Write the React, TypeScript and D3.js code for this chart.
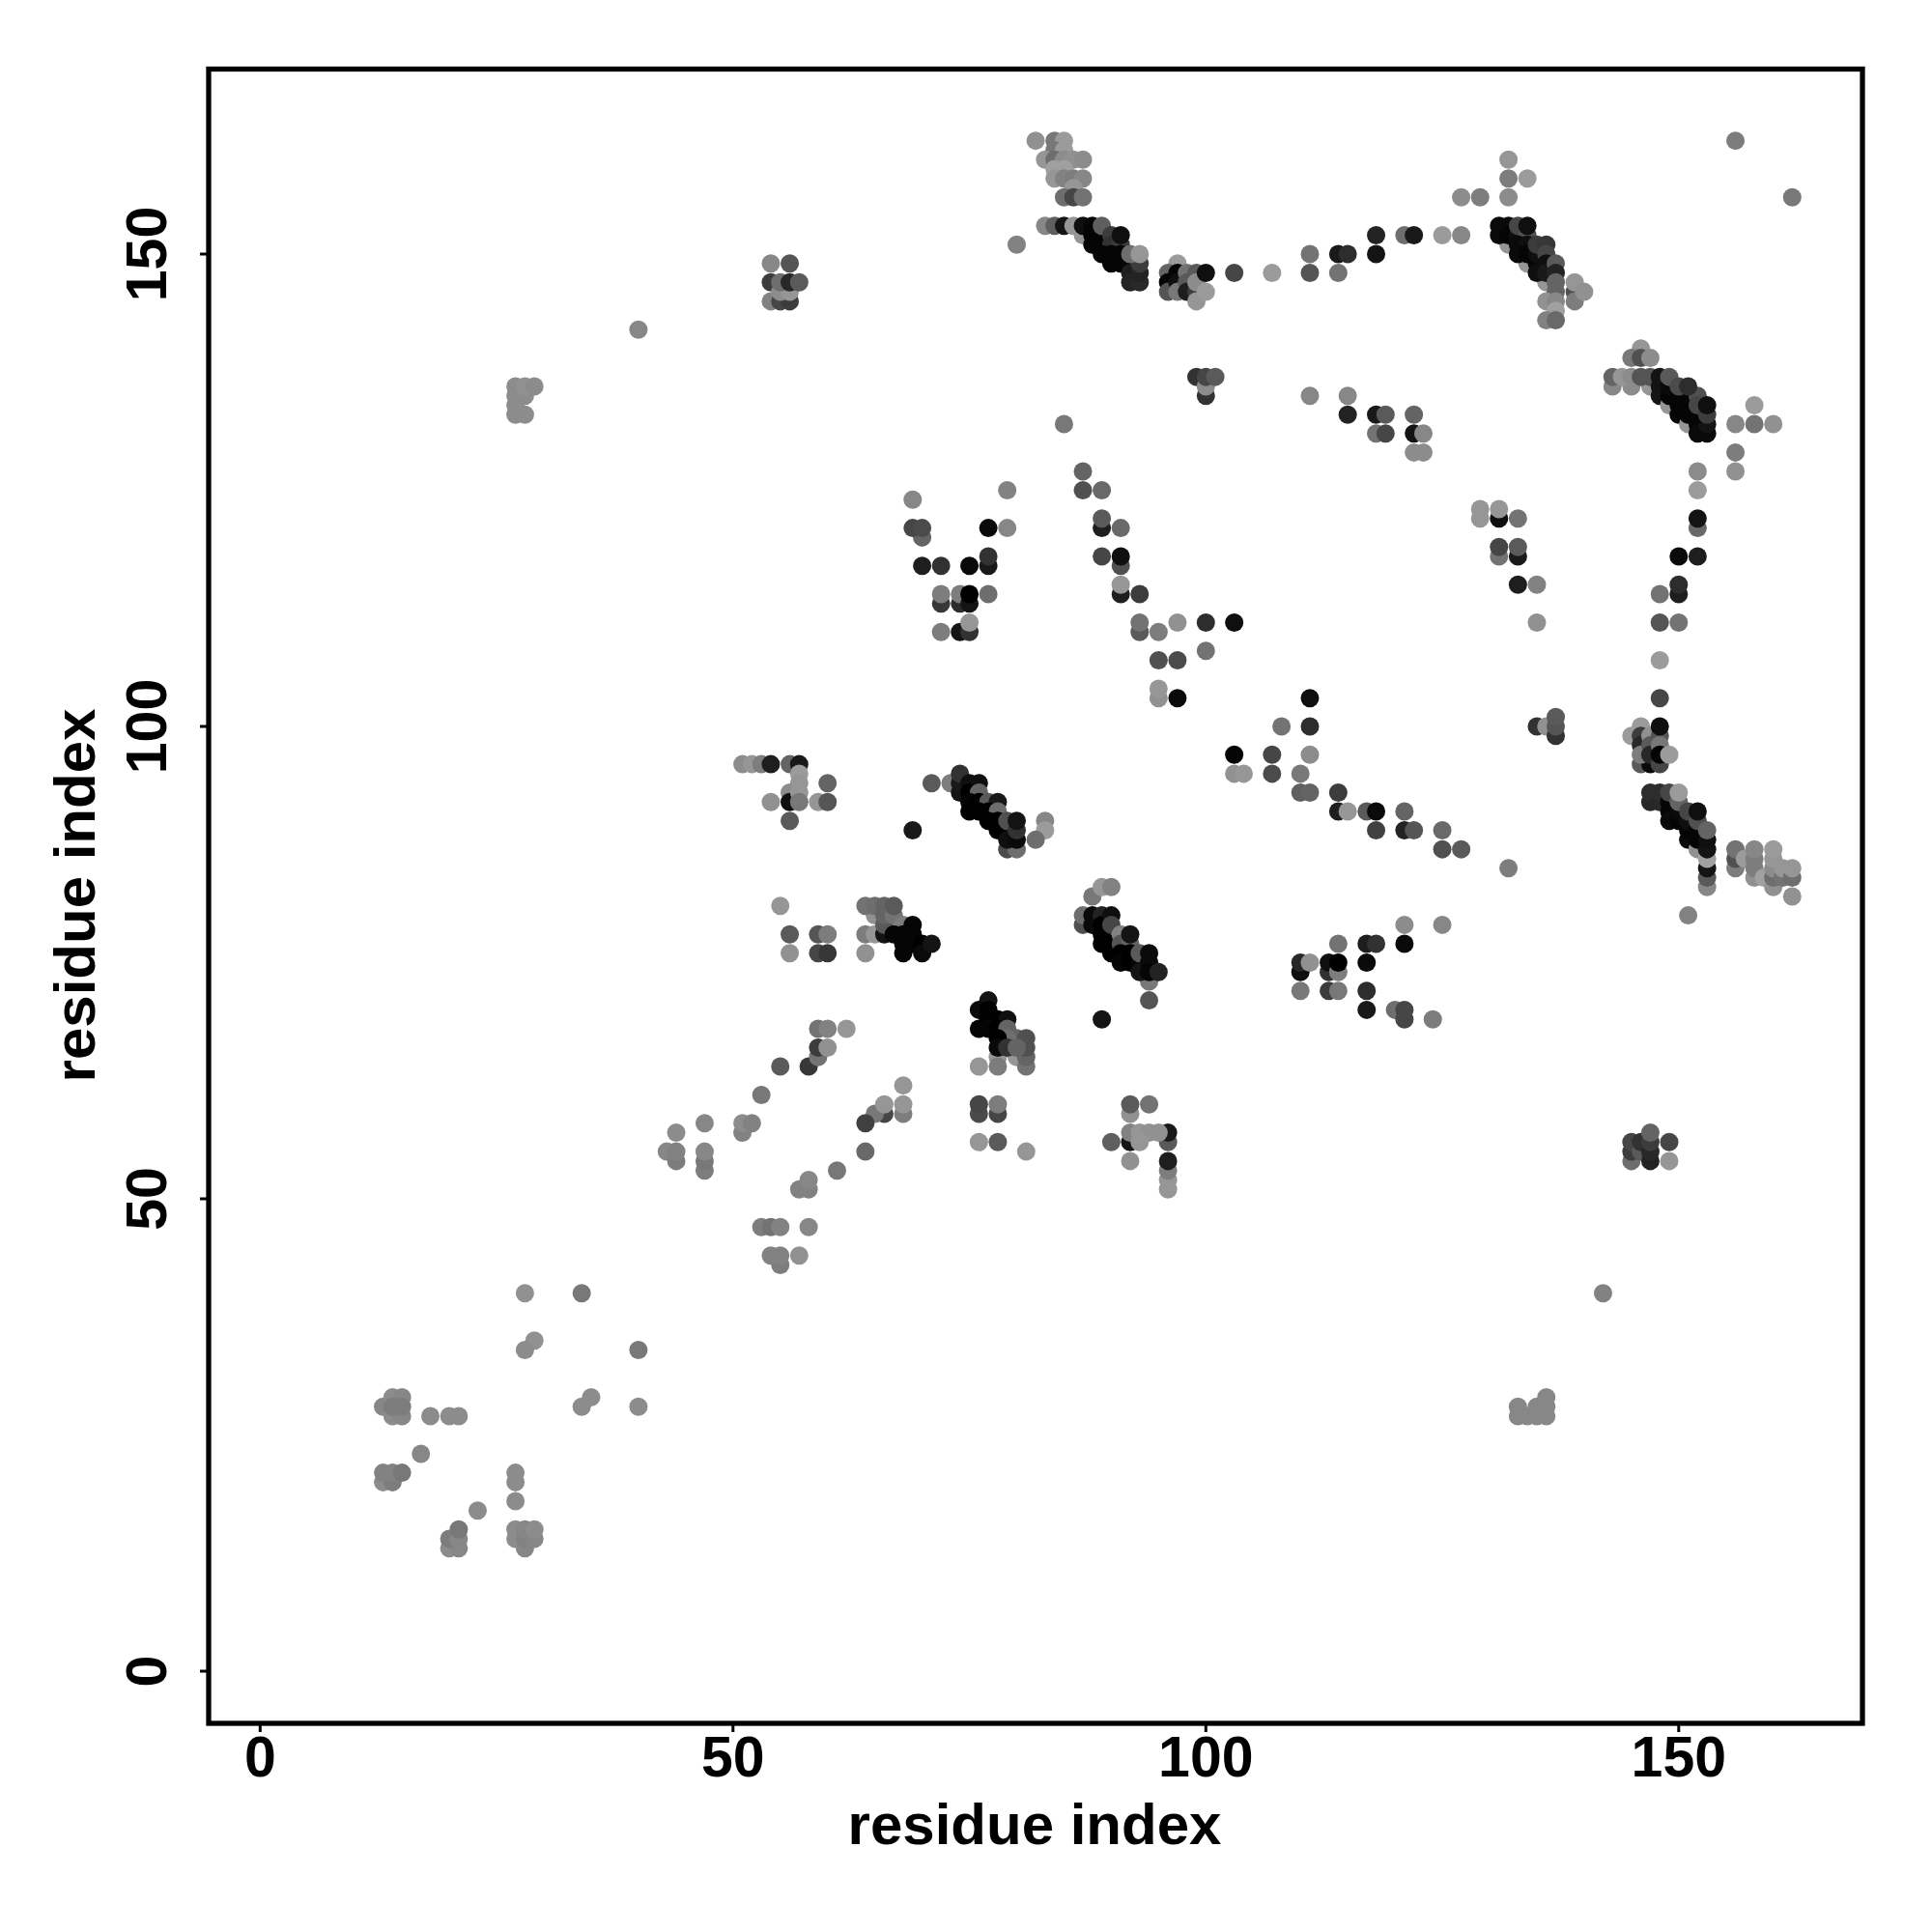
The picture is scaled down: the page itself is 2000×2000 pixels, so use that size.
import React from "react";
import * as d3 from "d3";

type P = [number, number, number];
// each contact: [residue i, residue j, grey level]
const topHelixA: P[] = [[82,162,145],[84,162,120],[85,162,155],[84,161,120],[85,161,155],[83,160,150],[84,160,110],[85,160,140],[86,160,145],[87,160,140],[84,159,160],[85,159,160],[84,158,150],[85,158,130],[86,158,125],[87,158,135],[86,157,150],[85,156,110],[86,156,70],[87,156,115],[83,153,135],[84,153,95],[85,153,20],[87,152,150],[86,153,150],[87,153,15],[88,153,5],[88,152,5],[89,152,5],[89,151,5],[88,151,5],[89,153,95],[90,152,60],[90,151,50],[91,151,60],[91,152,15],[89,150,5],[90,150,5],[91,150,5],[90,149,5],[91,149,5],[92,149,5],[92,148,30],[92,147,35],[93,147,40],[93,148,35],[93,149,60],[92,150,110],[93,150,150],[80,151,130]];
const topHelixB: P[] = [[97,149,155],[96,148,100],[96,147,5],[96,146,85],[97,148,5],[97,147,15],[97,146,120],[98,148,115],[98,147,90],[98,146,30],[99,146,60],[99,145,150],[99,148,90],[99,147,140],[100,148,15],[100,146,155],[103,148,70],[107,148,155],[111,150,115],[111,148,85],[114,150,25],[115,150,45],[114,148,115],[118,152,35],[118,150,20],[121,152,110],[122,152,25],[125,152,155],[127,152,135]];
const topHelixC: P[] = [[156,162,125],[162,156,120],[132,160,150],[132,158,125],[134,158,155],[127,156,140],[129,156,125],[132,156,140],[132,151,150],[131,153,10],[132,153,10],[131,152,10],[132,152,5],[133,152,15],[133,153,70],[134,152,80],[134,153,15],[134,149,150],[133,151,10],[134,151,15],[133,150,10],[134,150,5],[135,149,5],[135,150,15],[135,151,60],[136,151,55],[136,150,70],[136,147,150],[135,148,15],[136,149,15],[136,148,25],[137,149,90],[137,148,35],[137,147,100],[137,146,100],[136,145,145],[137,145,135],[137,144,160],[136,143,130],[137,143,105],[139,146,80],[139,145,125],[139,147,150],[140,146,145]];
const topHelixD: P[] = [[146,140,150],[145,139,120],[146,139,80],[147,139,140],[143,136,135],[145,136,140],[147,136,150],[143,137,100],[144,137,150],[145,137,140],[146,137,85],[147,137,85],[148,136,20],[148,137,20],[148,135,20],[149,134,150],[149,135,5],[149,136,10],[149,137,90],[150,135,5],[150,134,5],[150,133,5],[151,132,150],[151,134,5],[151,133,5],[152,132,5],[152,131,10],[153,131,10],[153,132,20],[152,133,5],[151,135,5],[150,136,75],[152,135,80],[152,134,70],[151,136,45],[153,133,60],[153,134,15],[156,132,135],[158,134,155],[158,132,115],[160,132,145],[156,129,125],[156,127,145],[152,127,140],[152,125,155],[152,121,105],[152,122,20]];
const midRightDots: P[] = [[99,137,50],[100,135,50],[100,136,140],[100,137,70],[101,137,90],[111,135,135],[115,135,135],[115,133,35],[118,133,25],[119,133,90],[118,131,115],[119,131,70],[85,132,120],[87,127,100],[87,125,80],[89,125,105],[79,125,130],[122,133,100],[122,131,20],[123,131,135],[122,129,140],[123,129,140]];
const vShape: P[] = [[69,124,135],[70,120,100],[69,121,70],[70,121,75],[77,121,10],[79,121,135],[70,117,30],[72,117,50],[75,117,10],[77,117,25],[77,118,50],[72,113,55],[72,114,125],[74,113,45],[74,114,125],[75,113,20],[75,114,0],[77,114,110],[72,110,125],[74,110,20],[75,110,50],[75,111,150]];
const slantDots: P[] = [[89,121,30],[89,122,90],[91,121,105],[89,118,70],[91,117,80],[91,118,15],[91,114,30],[91,115,150],[93,114,60],[93,110,90],[93,111,115],[95,110,125],[97,111,145],[100,111,45],[103,111,15],[100,108,115],[95,107,80],[97,107,75],[95,103,145],[95,104,150],[97,103,10],[111,103,15],[108,100,115],[111,100,45],[103,97,5],[107,97,70],[111,97,140],[103,95,145],[104,95,150],[107,95,75],[110,95,120],[110,93,95],[111,93,100],[114,93,60],[114,91,30],[115,91,150],[117,91,90],[118,91,10],[121,91,100],[118,89,65],[121,89,35],[122,89,85],[125,89,105],[125,87,80],[127,87,90],[132,85,125],[135,100,50],[136,100,145],[137,99,50],[137,100,85],[137,101,90]];
const middleHelix: P[] = [[71,94,90],[73,94,125],[74,93,20],[74,94,25],[74,95,50],[75,94,15],[76,94,15],[75,93,0],[76,93,100],[75,92,5],[76,92,0],[77,92,90],[78,92,25],[75,91,0],[76,91,0],[77,91,0],[78,91,110],[77,90,0],[78,90,0],[78,89,0],[79,89,0],[79,90,80],[79,87,75],[80,87,110],[79,88,15],[80,88,10],[80,89,50],[80,90,20],[83,90,135],[83,89,155],[82,88,110],[69,89,25]];
const blockNear55: P[] = [[51,96,140],[52,96,150],[53,96,125],[54,96,30],[56,96,100],[57,96,25],[56,93,140],[57,95,155],[57,94,150],[56,92,15],[57,93,150],[57,92,120],[56,90,90],[54,92,145],[60,94,100],[59,92,150],[60,92,85]];
const blockNear80: P[] = [[55,81,150],[56,78,90],[56,76,145],[59,78,85],[60,78,125],[59,76,70],[60,76,55],[64,78,125],[65,78,150],[64,76,145],[65,80,145],[64,81,115],[65,81,110],[66,78,20],[66,79,90],[66,80,100],[66,81,100],[67,80,115],[67,81,90],[68,79,125],[67,78,5],[68,78,5],[68,77,5],[68,76,5],[69,79,5],[69,78,5],[69,77,5],[70,77,0],[70,76,10],[71,77,20]];
const helix89: P[] = [[87,79,80],[87,80,110],[88,82,120],[89,83,150],[90,83,130],[88,79,10],[88,80,10],[89,80,35],[89,79,0],[89,78,0],[90,80,15],[89,77,0],[90,79,70],[90,77,0],[90,76,0],[91,78,130],[91,77,85],[92,77,100],[91,76,0],[91,75,5],[92,76,0],[92,75,0],[93,75,5],[94,73,120],[92,78,20],[93,76,90],[94,76,10],[93,74,20],[94,75,10],[94,74,5],[95,74,35],[94,71,85],[89,69,20]];
const blockNear115: P[] = [[121,79,140],[125,79,135],[114,77,115],[117,77,30],[118,77,50],[121,77,10],[110,74,15],[110,75,40],[111,75,145],[113,74,50],[113,75,15],[114,74,125],[114,75,0],[117,75,10],[110,72,120],[113,72,60],[114,72,120],[117,72,45],[117,70,25],[120,70,110],[121,69,70],[121,70,70],[124,69,125]];
const blockNear100Right: P[] = [[148,114,115],[150,114,30],[150,115,45],[148,111,85],[150,111,115],[148,107,155],[148,103,70],[150,118,10],[152,118,30],[146,100,155],[145,99,155],[146,96,90],[147,96,10],[146,99,60],[146,98,40],[146,97,125],[147,99,145],[147,98,90],[147,97,40],[148,96,70],[148,99,85],[148,98,120],[148,97,5],[148,100,15],[149,97,155],[147,92,40],[147,93,45],[148,92,40],[148,93,45],[149,91,5],[149,92,5],[149,93,70],[149,90,10],[150,90,5],[150,91,10],[150,92,100],[150,93,155],[151,88,10],[151,89,5],[151,90,15],[151,91,70],[152,87,145],[152,88,5],[152,89,5],[152,90,80],[152,91,15],[153,83,135],[153,84,90],[153,85,20],[153,86,160],[153,87,20],[153,88,15],[153,89,100],[151,80,130]];
const cornerRight: P[] = [[156,85,125],[156,86,80],[156,87,115],[157,86,155],[158,84,145],[158,85,125],[158,86,125],[158,87,135],[159,84,160],[160,83,145],[160,84,110],[160,85,140],[160,86,150],[160,87,155],[161,84,115],[161,85,150],[162,84,110],[162,85,150],[162,82,145]];
const column130: P[] = [[129,122,150],[129,123,150],[131,122,15],[131,123,150],[133,122,115],[131,118,115],[131,119,70],[133,118,25],[133,119,90],[133,115,30],[135,115,130],[135,111,145]];
const lowerHelix70: P[] = [[77,71,20],[76,70,10],[77,70,0],[76,68,5],[77,69,0],[78,69,0],[79,69,15],[77,68,5],[78,68,0],[79,68,100],[80,65,150],[80,67,100],[79,67,110],[78,67,0],[78,65,150],[81,64,115],[81,65,100],[81,66,80],[81,67,80],[78,66,10],[79,66,50],[80,66,100],[76,64,150],[78,64,125],[76,59,75],[76,60,70],[78,59,70],[78,60,125],[76,56,150],[78,56,90],[81,55,150]];
const strand60: P[] = [[59,68,115],[60,68,130],[62,68,150],[58,64,55],[59,65,115],[59,66,60],[60,66,145],[55,64,90],[53,61,120],[44,57,140],[47,58,135],[51,57,130],[51,58,140],[52,58,130],[43,55,135],[44,54,125],[44,55,130],[47,53,125],[47,54,120],[47,55,135],[68,59,125],[68,60,150],[68,62,150],[66,59,70],[65,59,120],[66,60,150],[64,58,65],[64,55,105],[61,53,120],[58,51,130],[57,51,130],[58,52,135],[53,47,125],[54,47,115],[55,47,130],[58,47,135],[55,43,125],[54,44,130],[55,44,130],[57,44,145]];
const block93: P[] = [[92,59,145],[92,60,90],[94,60,115],[90,56,95],[92,56,20],[92,57,130],[96,56,90],[96,57,25],[93,57,150],[94,57,145],[95,57,145],[93,56,150],[92,54,145],[96,51,150],[96,52,150],[96,53,125],[96,54,30]];
const block147: P[] = [[145,54,110],[145,55,60],[145,56,70],[146,55,90],[146,56,50],[147,54,35],[147,55,40],[147,56,60],[147,57,100],[149,56,70],[149,54,150]];
const block55Top: P[] = [[54,149,135],[56,149,85],[54,145,130],[54,147,60],[55,145,70],[56,145,60],[55,146,140],[56,146,150],[55,147,110],[56,147,40],[57,147,90]];
const lowLeft: P[] = [[28,40,145],[34,40,120],[29,35,145],[28,34,140],[40,34,120],[35,29,140],[34,28,140],[40,28,140],[13,28,135],[14,27,140],[15,27,135],[14,29,140],[15,29,135],[14,28,125],[15,28,125],[18,27,140],[20,27,140],[21,27,140],[17,23,135],[13,20,140],[14,20,125],[13,21,130],[14,21,130],[15,21,120],[27,20,140],[27,21,140],[27,18,140],[23,17,140],[20,13,140],[21,13,135],[20,14,125],[21,14,135],[21,15,120],[27,14,140],[27,15,140],[28,13,135],[28,14,130],[28,15,135],[29,14,135],[29,15,140]];
const scattered: P[] = [[40,142,135],[27,133,140],[28,133,140],[27,134,140],[27,135,140],[28,135,140],[27,136,140],[28,136,145],[29,136,140],[142,40,130],[133,27,135],[133,28,135],[134,27,135],[135,27,135],[135,28,135],[136,27,135],[136,28,135],[136,29,135]];

const allContacts: P[] = [topHelixA, topHelixB, topHelixC, topHelixD, midRightDots, vShape, slantDots, middleHelix, blockNear55, blockNear80, helix89, blockNear115, blockNear100Right, cornerRight, column130, lowerHelix70, strand60, block93, block147, block55Top, lowLeft, scattered].flat();

const xTicks = [0, 50, 100, 150];
const yTicks = [0, 50, 100, 150];
const axisTitle = "residue index";

const xScale = d3.scaleLinear().domain([0, 150]).range([269.3, 1737.8]);
const yScale = d3.scaleLinear().domain([0, 150]).range([1730, 263]);
const font = "'Liberation Sans', Arial, sans-serif";

export default function App() {
  return (
    <svg width={2000} height={2000} style={{ position: "absolute", left: 0, top: 0, background: "#fff" }} fontFamily={font} fontWeight="bold">
      {allContacts.map(([i, j, g], k) => (
        <circle key={k} cx={xScale(i)} cy={yScale(j)} r={9.5} fill={d3.rgb(g, g, g).formatHex()} />
      ))}
      <rect x={216} y={71.5} width={1712} height={1712.5} fill="none" stroke="#000" strokeWidth={5.3} />
      {xTicks.map((t) => (
        <g key={t}>
          <line x1={xScale(t)} x2={xScale(t)} y1={1784} y2={1793} stroke="#000" strokeWidth={3} />
          <text x={xScale(t)} y={1839} fontSize={59} textAnchor="middle">{t}</text>
        </g>
      ))}
      {yTicks.map((t) => (
        <g key={t}>
          <line x1={216} x2={207} y1={yScale(t)} y2={yScale(t)} stroke="#000" strokeWidth={3} />
          <text transform={`translate(172,${yScale(t)}) rotate(-90)`} fontSize={59} textAnchor="middle">{t}</text>
        </g>
      ))}
      <text x={1071} y={1909} fontSize={60} textAnchor="middle">{axisTitle}</text>
      <text transform="translate(98,927) rotate(-90)" fontSize={60} textAnchor="middle">{axisTitle}</text>
    </svg>
  );
}
